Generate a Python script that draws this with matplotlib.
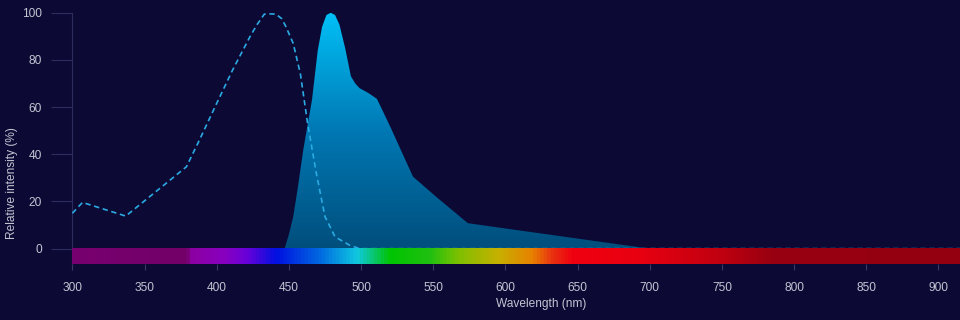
import numpy as np
import matplotlib
matplotlib.use("Agg")
import matplotlib.pyplot as plt
from matplotlib.colors import LinearSegmentedColormap, to_rgb

# excitation spectrum (dashed)
ex_nm = [300, 307, 337, 379, 388, 400, 411, 423, 428, 433, 437, 441, 445, 448, 453,
         458, 463, 469, 475, 482, 492, 499, 915]
ex_val = [15, 19.6, 13.8, 34.7, 46, 61.6, 75.7, 89.8, 95, 99.4, 99.5, 99.4, 97.5, 94, 87,
          74, 53, 32, 13.6, 5, 1.5, 0, 0]

# emission spectrum (filled)
em_nm = [447, 450, 453, 456, 460, 466, 470, 473, 476, 479, 482, 485, 489, 493, 496,
         499, 505, 511, 520, 536, 552, 574, 596, 700, 915]
em_val = [0, 6, 13.5, 25, 42, 63, 84, 94, 99, 100, 99, 95, 85, 73, 70,
          68, 66, 63.5, 52, 30.5, 22, 10.8, 8.9, 0, 0]

x_ticks = [300, 350, 400, 450, 500, 550, 600, 650, 700, 750, 800, 850, 900]
y_ticks = [0, 20, 40, 60, 80, 100]

# colour stops of the visible-spectrum bar (nm, colour)
spec_stops = [(300, '#780070'), (379, '#720068'), (381, '#8c00a0'), (405, '#8800c0'),
              (420, '#6a00d8'), (441, '#0010e0'), (471, '#0068e0'), (497, '#10c8e0'),
              (520, '#00c400'), (548, '#20c010'), (568, '#80c000'), (596, '#c8b000'),
              (619, '#e88000'), (633, '#e83010'), (647, '#f00010'), (693, '#e80010'),
              (750, '#c00010'), (785, '#980010'), (915, '#940010')]

BG = '#0c0a35'
TXT = '#c4c4d2'
XMIN, XMAX = 300, 915
YMIN, YMAX = -6.5, 100.3

fig = plt.figure(figsize=(9.6, 3.2), dpi=100, facecolor=BG)
ax = fig.add_axes([0.0754, 0.175, 0.9246, 0.7875])
ax.set_facecolor(BG)
ax.set_xlim(XMIN, XMAX)
ax.set_ylim(YMIN, YMAX)

# gradient fill for the emission curve
grad = LinearSegmentedColormap.from_list('g', ['#004e7c', '#0078b4', '#00c0f6'])
poly = ax.fill_between(em_nm, em_val, 0, color='none', lw=0)
img = ax.imshow(np.linspace(0, 1, 256).reshape(-1, 1), cmap=grad, aspect='auto',
                extent=(XMIN, XMAX, 0, 100), origin='lower', zorder=2)
img.set_clip_path(poly.get_paths()[0], transform=ax.transData)

ax.plot(ex_nm, ex_val, color='#2aaae2', lw=1.2, dashes=(3.2, 2.2), zorder=3)

# spectrum bar
span = XMAX - XMIN
cm = LinearSegmentedColormap.from_list(
    'spec', [((n - XMIN) / span, to_rgb(c)) for n, c in spec_stops])
ax.imshow(np.linspace(0, 1, 1024).reshape(1, -1), cmap=cm, aspect='auto',
          extent=(XMIN, XMAX, YMIN, 0), zorder=4)

for s in ['top', 'right', 'bottom']:
    ax.spines[s].set_visible(False)
ax.spines['left'].set_color('#2e2c5c')
ax.spines['left'].set_bounds(YMIN - 0.6, 100)

ax.set_xticks(x_ticks)
ax.set_yticks(y_ticks)
ax.tick_params(axis='y', length=15, width=0.8, color='#2e2c5c', pad=7,
               labelsize=8.6, labelcolor=TXT)
ax.tick_params(axis='x', length=4, width=0.8, color='#3a3866', pad=9,
               labelsize=8.6, labelcolor=TXT)
for lab in ax.get_xticklabels() + ax.get_yticklabels():
    lab.set_family('Liberation Sans')

ax.set_xlabel('Wavelength (nm)', fontsize=8.6, color=TXT, family='Liberation Sans')
ax.set_ylabel('Relative intensity (%)', fontsize=8.6, color=TXT, family='Liberation Sans')
ax.xaxis.set_label_coords(0.5285, -0.134)
ax.yaxis.set_label_coords(-0.061, 0.323)

fig.savefig('out.png', dpi=100, facecolor=BG)
